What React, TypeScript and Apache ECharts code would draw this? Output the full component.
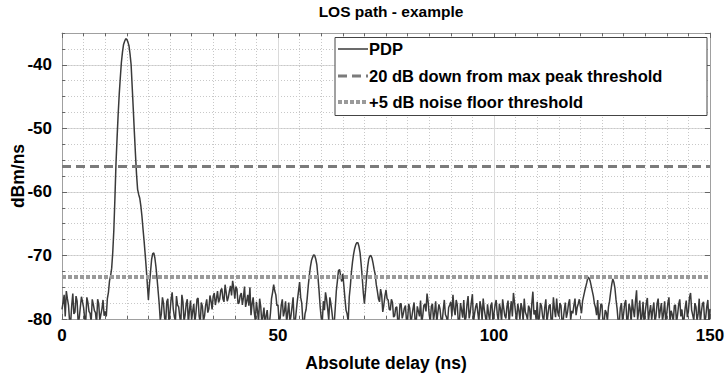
import React, { useEffect, useRef } from "react";
import * as echarts from "echarts";

// Absolute delay sampling of the PDP trace (ns)
const pdpStartNs = 0;
const pdpStepNs = 0.5;

// PDP values (dBm/ns) on the 0.5 ns grid, 0 .. 150 ns
const pdp0to10 = [-78.5, -76.2, -75.6, -77.8, -80.6, -76.0, -78.9, -77.2, -79.8, -76.5, -78.2, -80.4, -77.4, -79.1, -76.9, -78.7, -80.8, -77.6, -79.3, -77.0];
const pdp10to20 = [-78.8, -76.8, -74.0, -72.0, -66.0, -55.5, -47.8, -42.0, -38.0, -36.3, -36.0, -37.0, -40.0, -47.0, -54.0, -59.6, -61.0, -63.8, -67.7, -72.0];
const pdp20to30 = [-77.0, -72.5, -69.7, -70.4, -73.6, -77.6, -79.2, -77.5, -80.5, -76.8, -78.9, -75.8, -79.6, -76.4, -78.1, -80.7, -77.3, -79.4, -76.9, -78.6];
const pdp30to40 = [-80.2, -77.6, -79.1, -76.7, -80.6, -78.0, -79.5, -76.9, -78.4, -77.2, -76.4, -77.8, -75.6, -76.9, -75.2, -77.3, -75.8, -76.6, -74.8, -74.0];
const pdp40to50 = [-76.8, -75.3, -77.4, -75.9, -76.6, -78.1, -76.2, -75.0, -77.6, -78.9, -77.3, -80.4, -78.0, -79.6, -81.0, -78.6, -80.8, -76.8, -74.6, -76.2];
const pdp50to60 = [-77.8, -79.9, -76.9, -78.8, -80.6, -77.4, -79.5, -76.6, -80.3, -77.0, -74.2, -77.5, -81.0, -78.5, -74.8, -71.8, -70.3, -70.0, -71.5, -75.5];
const pdp60to70 = [-79.8, -77.2, -75.8, -78.4, -76.6, -79.0, -80.8, -75.6, -72.4, -73.2, -72.9, -76.8, -79.2, -76.5, -72.6, -69.8, -68.3, -68.0, -69.6, -73.5];
const pdp70to80 = [-77.6, -73.5, -70.6, -70.0, -71.2, -73.0, -75.6, -77.3, -76.2, -77.8, -75.4, -77.0, -78.6, -77.4, -79.5, -78.1, -80.3, -77.6, -79.2, -77.9];
const pdp80to90 = [-80.1, -78.3, -79.6, -77.4, -80.4, -78.8, -77.1, -79.5, -77.6, -76.0, -79.3, -78.0, -80.2, -77.2, -79.0, -78.4, -80.5, -77.0, -79.7, -78.2];
const pdp90to100 = [-77.3, -76.2, -79.4, -77.8, -80.3, -78.6, -77.0, -79.8, -76.4, -78.9, -76.1, -79.2, -77.5, -80.4, -78.1, -76.8, -79.6, -77.7, -80.2, -77.4];
const pdp100to110 = [-79.1, -77.0, -80.3, -78.4, -76.9, -79.5, -78.0, -80.6, -77.2, -75.9, -79.0, -77.6, -80.1, -78.3, -76.8, -79.4, -77.9, -80.5, -75.7, -78.6];
const pdp110to120 = [-77.3, -79.8, -78.0, -80.4, -76.9, -79.2, -77.7, -80.2, -78.5, -76.8, -79.6, -77.9, -80.3, -77.4, -79.0, -76.9, -78.7, -77.8, -79.4, -77.6];
const pdp120to130 = [-78.0, -77.2, -75.6, -74.2, -73.6, -74.8, -76.4, -78.2, -77.0, -79.3, -77.8, -80.4, -79.0, -78.1, -75.8, -73.7, -75.2, -78.4, -80.6, -77.5];
const pdp130to140 = [-79.2, -77.0, -80.1, -78.3, -76.9, -79.7, -75.5, -78.8, -80.4, -77.3, -79.0, -76.7, -78.9, -80.2, -77.4, -79.5, -76.8, -78.6, -80.3, -77.2];
const pdp140to150 = [-79.1, -76.6, -78.7, -80.4, -77.8, -79.3, -76.9, -78.5, -80.0, -77.1, -78.8, -75.9, -79.4, -77.5, -80.3, -76.8, -78.9, -77.3, -79.8, -77.0, -78.4];

// PDP values (dBm/ns) halfway between grid samples, 0.25 .. 149.75 ns
const mid0to10 = [-77.4, -79.6, -76.8, -80.3, -77.9, -79.2, -76.4, -80.7, -78.1, -77.3, -79.9, -76.6, -78.8, -80.5, -77.7, -79.0, -76.9, -80.2, -78.4, -79.5];
const mid10to20 = [-79.6, -75.8, -73.2, -69.5, -61.0, -51.5, -44.6, -39.6, -36.8, -35.9, -36.4, -38.3, -43.5, -50.6, -57.2, -60.4, -62.2, -65.8, -69.8, -74.5];
const mid20to30 = [-74.5, -70.6, -69.6, -71.8, -75.6, -80.2, -76.6, -79.8, -77.3, -80.6, -76.9, -78.4, -80.3, -77.8, -79.6, -76.2, -80.4, -77.6, -80.8, -77.1];
const mid30to40 = [-78.8, -80.5, -76.9, -79.6, -77.4, -80.3, -77.8, -79.0, -76.3, -78.5, -75.9, -76.8, -77.4, -75.5, -76.8, -74.6, -77.2, -75.6, -76.3, -75.1];
const mid40to50 = [-74.9, -77.6, -76.3, -77.8, -74.9, -77.2, -77.9, -79.4, -76.6, -80.3, -78.7, -76.8, -80.6, -78.2, -79.5, -80.9, -79.1, -75.8, -75.6, -77.9];
const mid50to60 = [-80.4, -77.8, -79.6, -77.2, -79.0, -80.5, -78.1, -80.8, -78.6, -75.6, -76.6, -80.3, -79.2, -76.8, -73.2, -70.8, -69.9, -70.6, -73.4, -78.0];
const mid60to70 = [-80.5, -78.6, -76.9, -80.2, -77.6, -80.6, -78.3, -74.0, -72.2, -74.1, -74.8, -78.6, -80.4, -74.8, -71.0, -68.9, -68.0, -68.6, -71.4, -75.9];
const mid70to80 = [-75.6, -71.8, -70.1, -70.4, -72.2, -74.6, -76.8, -75.3, -78.9, -76.4, -76.8, -78.5, -76.9, -79.7, -78.2, -80.6, -77.6, -79.9, -78.3, -80.4];
const mid80to90 = [-77.6, -80.7, -78.4, -80.5, -78.0, -79.6, -80.8, -77.9, -78.8, -77.3, -80.4, -77.6, -79.0, -80.6, -77.7, -80.1, -78.6, -79.3, -80.6, -77.8];
const mid90to100 = [-79.6, -78.4, -77.0, -80.6, -77.5, -79.8, -80.3, -77.7, -79.9, -77.4, -80.5, -78.1, -79.0, -77.2, -80.2, -78.5, -80.6, -79.2, -77.9, -80.3];
const mid100to110 = [-77.8, -79.2, -77.6, -80.5, -78.3, -79.9, -77.1, -78.7, -79.6, -77.4, -80.2, -78.6, -77.5, -80.4, -78.9, -80.1, -78.4, -77.6, -79.3, -80.1];
const mid110to120 = [-80.4, -77.5, -79.6, -78.2, -80.5, -77.9, -80.7, -76.6, -79.7, -78.9, -77.5, -80.5, -78.7, -79.8, -77.6, -80.2, -79.1, -76.8, -78.2, -76.9];
const mid120to130 = [-79.1, -76.4, -74.9, -73.4, -74.0, -75.6, -77.6, -79.4, -80.6, -77.6, -80.8, -78.6, -80.3, -77.2, -74.6, -74.2, -77.0, -80.5, -78.2, -80.4];
const mid130to140 = [-77.6, -80.3, -77.6, -80.6, -78.5, -77.2, -80.1, -77.1, -79.6, -80.8, -77.5, -80.4, -77.8, -78.6, -80.5, -77.6, -79.9, -77.5, -79.1, -80.5];
const mid140to150 = [-77.5, -80.5, -79.3, -77.9, -80.6, -77.7, -79.6, -80.4, -78.3, -79.7, -76.6, -78.6, -80.2, -78.1, -79.2, -80.6, -77.6, -80.3, -78.1, -80.6];

const pdpGridDbm = [
  ...pdp0to10, ...pdp10to20, ...pdp20to30, ...pdp30to40, ...pdp40to50,
  ...pdp50to60, ...pdp60to70, ...pdp70to80, ...pdp80to90, ...pdp90to100,
  ...pdp100to110, ...pdp110to120, ...pdp120to130, ...pdp130to140, ...pdp140to150,
];
const pdpMidDbm = [
  ...mid0to10, ...mid10to20, ...mid20to30, ...mid30to40, ...mid40to50,
  ...mid50to60, ...mid60to70, ...mid70to80, ...mid80to90, ...mid90to100,
  ...mid100to110, ...mid110to120, ...mid120to130, ...mid130to140, ...mid140to150,
];

// Threshold lines
const thresholdSpanNs = [0, 150];
const peakThresholdDbm = -56;
const noiseThresholdDbm = -73.4;

// Axes
const xRange = [0, 150];
const xMajor = 50;
const yRange = [-80, -35];
const yMajor = 10;
const yMinor = 2.5;

const titleText = "LOS path - example";
const xName = "Absolute delay (ns)";
const yName = "dBm/ns";
const legendLabels = ["PDP", "20 dB down from max peak threshold", "+5 dB noise floor threshold"];

const FONT = "'Liberation Sans', Arial, Helvetica, sans-serif";
const AXIS_GRAY = "#a0a0a0";
const TICK_GRAY = "#666666";
const PDP_COLOR = "#3a3a3a";
const DASH_COLOR = "#7b7b7b";
const DOT_COLOR = "#9a9a9a";

export default function App() {
  const ref = useRef<HTMLDivElement>(null);

  useEffect(() => {
    if (!ref.current) return;
    const chart = echarts.init(ref.current, undefined, { renderer: "svg" });

    const pdpData: number[][] = [];
    pdpGridDbm.forEach((v, i) => {
      const x = pdpStartNs + i * pdpStepNs;
      pdpData.push([x, v]);
      if (i < pdpMidDbm.length) pdpData.push([x + pdpStepNs / 2, pdpMidDbm[i]]);
    });

    const labelStyle = { color: "#000", fontFamily: FONT, fontWeight: "bold" as const, fontSize: 17 };
    const nameStyle = { color: "#000", fontFamily: FONT, fontWeight: "bold" as const, fontSize: 17.5 };

    const legendX = 335;
    const legendY = 37.5;
    const legendRows = [49, 76, 102];

    chart.setOption({
      animation: false,
      backgroundColor: "#ffffff",
      title: {
        text: titleText,
        left: 386,
        textAlign: "center",
        top: -2,
        textStyle: { color: "#000", fontFamily: FONT, fontWeight: "bold", fontSize: 15.5 },
      },
      grid: { left: 62, right: 15, top: 33, bottom: 59, containLabel: false, outerBoundsMode: "none" },
      xAxis: [
        {
          type: "value",
          min: xRange[0],
          max: xRange[1],
          interval: xMajor,
          position: "bottom",
          axisLine: { show: true, onZero: false, lineStyle: { color: AXIS_GRAY, width: 1 } },
          axisTick: { show: true, inside: true, length: 5, lineStyle: { color: TICK_GRAY } },
          minorTick: { show: true, splitNumber: 10, length: 3, lineStyle: { color: TICK_GRAY } },
          axisLabel: { ...labelStyle, margin: 8 },
          splitLine: { show: true, lineStyle: { color: "#dadada", width: 1 } },
          minorSplitLine: { show: true, lineStyle: { color: "#c8c8c8", width: 1, type: [1, 2] } },
          name: xName,
          nameLocation: "middle",
          nameGap: 35,
          nameTextStyle: nameStyle,
        },
        {
          type: "value",
          min: xRange[0],
          max: xRange[1],
          interval: xMajor,
          position: "top",
          axisLine: { show: true, onZero: false, lineStyle: { color: AXIS_GRAY, width: 1 } },
          axisTick: { show: true, inside: true, length: 5, lineStyle: { color: TICK_GRAY } },
          minorTick: { show: true, splitNumber: 10, length: 3, lineStyle: { color: TICK_GRAY } },
          axisLabel: { show: false },
          splitLine: { show: false },
        },
      ],
      yAxis: [
        {
          type: "value",
          min: yRange[0],
          max: yRange[1],
          interval: yMajor,
          position: "left",
          axisLine: { show: true, onZero: false, lineStyle: { color: AXIS_GRAY, width: 1 } },
          axisTick: { show: true, inside: true, length: 5, lineStyle: { color: TICK_GRAY } },
          axisLabel: { ...labelStyle, margin: 10, showMaxLabel: false },
          splitLine: { show: true, lineStyle: { color: "#dadada", width: 1 } },
          name: yName,
          nameLocation: "middle",
          nameGap: 35,
          nameRotate: 90,
          nameMoveOverlap: false,
          nameTextStyle: nameStyle,
        },
        {
          type: "value",
          min: yRange[0],
          max: yRange[1],
          interval: yMinor,
          position: "left",
          axisLine: { show: false },
          axisTick: { show: true, inside: true, length: 3, lineStyle: { color: TICK_GRAY } },
          axisLabel: { show: false },
          splitLine: { show: true, lineStyle: { color: "#c8c8c8", width: 1, type: [1, 2] } },
        },
        {
          type: "value",
          min: yRange[0],
          max: yRange[1],
          interval: yMajor,
          position: "right",
          axisLine: { show: true, onZero: false, lineStyle: { color: AXIS_GRAY, width: 1 } },
          axisTick: { show: true, inside: true, length: 5, lineStyle: { color: TICK_GRAY } },
          axisLabel: { show: false },
          splitLine: { show: false },
        },
      ],
      series: [
        {
          name: legendLabels[0],
          type: "line",
          data: pdpData,
          symbol: "none",
          showSymbol: false,
          clip: true,
          lineStyle: { color: PDP_COLOR, width: 1.5 },
          z: 3,
        },
        {
          name: legendLabels[1],
          type: "line",
          data: thresholdSpanNs.map((x) => [x, peakThresholdDbm]),
          symbol: "none",
          lineStyle: { color: DASH_COLOR, width: 3, type: [9, 5] },
          z: 4,
        },
        {
          name: legendLabels[2],
          type: "line",
          data: thresholdSpanNs.map((x) => [x, noiseThresholdDbm]),
          symbol: "none",
          lineStyle: { color: DOT_COLOR, width: 4, type: [4, 2] },
          z: 4,
        },
      ],
      graphic: [
        {
          type: "rect",
          z: 100,
          shape: { x: legendX, y: legendY, width: 372, height: 78 },
          style: { fill: "#ffffff", stroke: "#444444", lineWidth: 1 },
        },
        {
          type: "line",
          z: 101,
          shape: { x1: legendX + 3, y1: legendRows[0], x2: legendX + 33, y2: legendRows[0] },
          style: { stroke: PDP_COLOR, lineWidth: 1.5 },
        },
        {
          type: "line",
          z: 101,
          shape: { x1: legendX + 3, y1: legendRows[1], x2: legendX + 33, y2: legendRows[1] },
          style: { stroke: DASH_COLOR, lineWidth: 3, lineDash: [9, 5] },
        },
        {
          type: "line",
          z: 101,
          shape: { x1: legendX + 3, y1: legendRows[2], x2: legendX + 33, y2: legendRows[2] },
          style: { stroke: DOT_COLOR, lineWidth: 4, lineDash: [4, 2] },
        },
        ...legendLabels.map((t, i) => ({
          type: "text",
          z: 101,
          style: {
            text: t,
            x: legendX + 34,
            y: legendRows[i],
            verticalAlign: "middle",
            align: "left",
            fill: "#000",
            font: `bold 16.5px ${FONT}`,
          },
        })),
      ],
    });

    return () => chart.dispose();
  }, []);

  return (
    <div
      ref={ref}
      style={{ position: "absolute", left: 0, top: 0, width: 725, height: 378 }}
    />
  );
}
